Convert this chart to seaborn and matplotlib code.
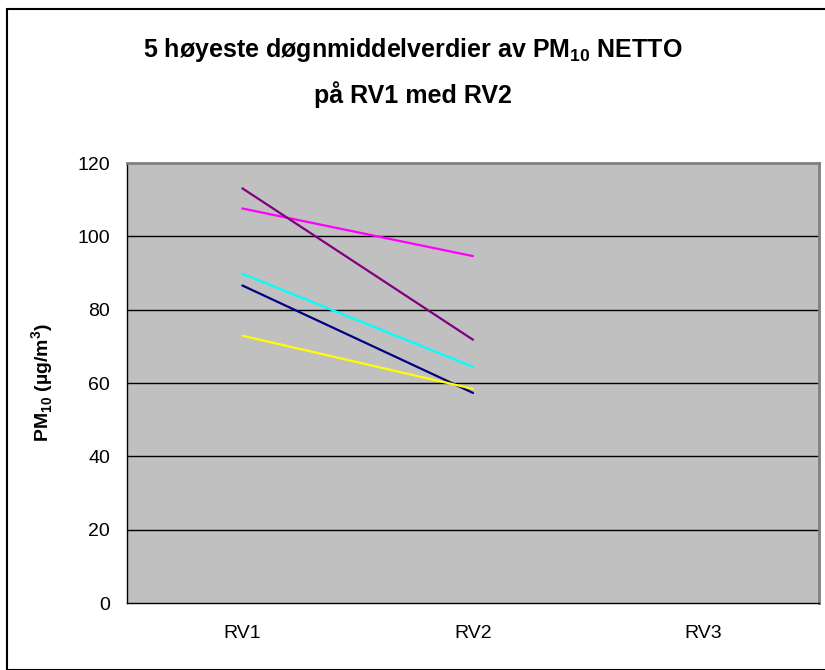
import numpy as np
import pandas as pd
import matplotlib
matplotlib.use("Agg")
import matplotlib.pyplot as plt
import matplotlib.transforms as mtransforms
import seaborn as sns
from matplotlib.patches import Rectangle

categories = ["RV1", "RV2", "RV3"]
series_names = ["Serie1", "Serie2", "Serie3", "Serie4", "Serie5"]
rv1_values = [86.6, 107.6, 72.9, 89.8, 113.1]
rv2_values = [57.3, 94.6, 58.4, 64.4, 71.8]
series_colors = ["#000080", "#FF00FF", "#FFFF00", "#00FFFF", "#800080"]
y_ticks = [0, 20, 40, 60, 80, 100, 120]

rows = []
for name, a, b in zip(series_names, rv1_values, rv2_values):
    rows.append({"serie": name, "pos": categories.index("RV1"), "value": a})
    rows.append({"serie": name, "pos": categories.index("RV2"), "value": b})
df = pd.DataFrame(rows)

sns.set_theme(style="white")
plt.rcParams["font.family"] = ["Liberation Sans", "DejaVu Sans"]
plt.rcParams["mathtext.fontset"] = "custom"
plt.rcParams["mathtext.rm"] = "Liberation Sans"
plt.rcParams["mathtext.bf"] = "Liberation Sans:bold"
plt.rcParams["text.color"] = "black"
plt.rcParams["axes.labelcolor"] = "black"
plt.rcParams["xtick.color"] = "black"
plt.rcParams["ytick.color"] = "black"

fig = plt.figure(figsize=(8.25, 6.7), dpi=100)
ax = fig.add_axes([127/825, 1 - 603/670, (819-127)/825, (603-163)/670])
ax.set_facecolor("#C0C0C0")

# outer chart border
fig.patches.append(Rectangle((7/825, 0), 1.2, (670-9)/670, transform=fig.transFigure,
                             fill=False, edgecolor="black", linewidth=1.5))

sns.lineplot(data=df, x="pos", y="value", hue="serie", palette=series_colors,
             linewidth=1.6, legend=False, ax=ax, zorder=3)

ax.set_xlim(-0.5, len(categories) - 0.5)
ax.set_ylim(0, 120)
ax.set_yticks(y_ticks)
ax.set_yticklabels([str(v) for v in y_ticks], fontsize=14)
ax.set_xticks(np.arange(len(categories) + 1) - 0.5)
ax.set_xticklabels([])
ax.set_xticks(np.arange(len(categories)), minor=True)
ax.set_xticklabels(categories, minor=True, fontsize=14)
ax.tick_params(axis="x", which="minor", length=0, pad=16)
ax.tick_params(axis="x", which="major", length=4.5, width=1, color="black", direction="out")
ax.tick_params(axis="y", length=3.6, width=1, color="black", direction="out", pad=8.5)
ax.tick_params(colors="black", labelcolor="black")

for v in y_ticks[1:-1]:
    ax.axhline(v, color="black", linewidth=1, zorder=1)

for s in ["top", "right"]:
    ax.spines[s].set_color("#808080")
    ax.spines[s].set_linewidth(2)
for s in ["left", "bottom"]:
    ax.spines[s].set_color("black")
    ax.spines[s].set_linewidth(1)

ax.set_xlabel("")
ax.set_ylabel(r"PM$_{\mathbf{10}}$ (µg/m$^{\mathbf{3}}$)", fontsize=14, fontweight="bold", color="black")
ax.yaxis.set_label_coords(56/825, 0.5,
                          transform=mtransforms.blended_transform_factory(fig.transFigure, ax.transAxes))

fig.text(0.5, 1 - 50/670, "5 høyeste døgnmiddelverdier av PM$_{\\mathbf{10}}$ NETTO",
         ha="center", va="center", fontsize=18, fontweight="bold", color="black")
fig.text(0.5, 1 - 95/670, "på RV1 med RV2",
         ha="center", va="center", fontsize=18, fontweight="bold", color="black")

fig.savefig("out.png", dpi=100)
